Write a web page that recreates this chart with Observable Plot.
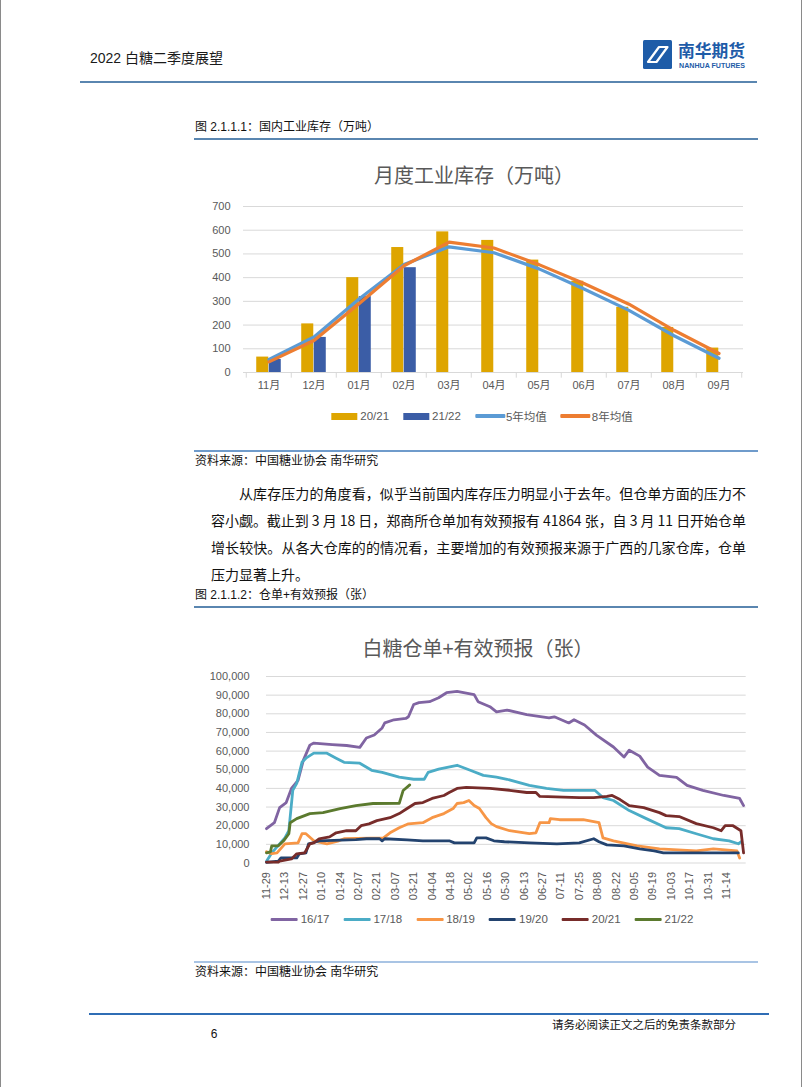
<!DOCTYPE html>
<html><head><meta charset="utf-8">
<script src="https://cdn.jsdelivr.net/npm/d3@7"></script>
<script src="https://cdn.jsdelivr.net/npm/@observablehq/plot@0.6"></script>
<style>
body{margin:0;background:#fff;}
#page{position:relative;width:802px;height:1087px;overflow:hidden;background:#fff;
 font-family:"Liberation Sans","Noto Sans CJK SC",sans-serif;color:#111;
 box-sizing:border-box;border-left:1px solid #8a8a8a;border-right:1px solid #8a8a8a;}
.para{position:absolute;left:210px;font-size:14px;line-height:27px;height:27px;
 font-family:"Noto Sans CJK SC",sans-serif;color:#111;white-space:nowrap;}
.legend{position:absolute;display:flex;align-items:center;transform:translate(-50%,-50%);
 font-size:11.5px;color:#595959;font-family:"Liberation Sans","Noto Sans CJK SC",sans-serif;white-space:nowrap;}
.legend .it{display:flex;align-items:center;margin-right:14px;}
.legend .it:last-child{margin-right:0;}
</style></head>
<body><div id="page"></div>
<script>
// ---------- Chart 1 data: 月度工业库存（万吨） ----------
const months = ["11月","12月","01月","02月","03月","04月","05月","06月","07月","08月","09月"];
const inv2021 = [65, 205, 400, 527, 593, 557, 474, 385, 275, 190, 103];
const inv2122 = [55, 148, 320, 442];
const avg5yr = [55, 150, 310, 455, 530, 505, 437, 352, 262, 155, 60];
const avg8yr = [45, 135, 290, 450, 550, 525, 455, 375, 288, 178, 80];
const yTicks1 = [0,100,200,300,400,500,600,700];

// ---------- Chart 2 data: 白糖仓单+有效预报（张） ----------
// x = days since 11-29
const dateLabels = ["11-29","12-13","12-27","01-10","01-24","02-07","02-21","03-07","03-21","04-04","04-18","05-02","05-16","05-30","06-13","06-27","07-11","07-25","08-08","08-22","09-05","09-19","10-03","10-17","10-31","11-14"];
const tickDays = [0,14,28,42,56,70,84,98,112,126,140,154,168,182,196,210,224,238,252,266,280,294,308,322,336,350];
const yTicks2 = [0,10000,20000,30000,40000,50000,60000,70000,80000,90000,100000];
const seasons = ["16/17","17/18","18/19","19/20","20/21","21/22"];
const seasonColors = ["#8064A2","#4BACC6","#F79646","#23436F","#772C2A","#5B7A2E"];

const days1617 = [0,6,10,15,19,24,28,33,36,50,61,71,76,82,88,90,97,106,108,112,116,124,131,137,145,158,161,170,175,183,198,215,219,230,234,242,251,264,272,276,284,290,299,312,320,332,348,360,363];
const vals1617 = [18400,21600,29700,32400,40000,44300,55000,63200,64300,63500,63000,62000,67000,68600,72400,75100,76800,77500,78400,85000,86000,86500,88600,91300,92000,90300,86500,83800,81000,82000,79500,77800,78400,75100,76800,74000,68600,62200,56800,60500,57300,51400,47000,45900,41600,38900,36200,34600,30800];

const days1718 = [0,4,14,17,20,23,27,30,36,46,53,59,71,80,88,101,112,120,123,131,145,155,165,175,183,200,213,226,250,256,264,276,289,304,314,327,340,352,359,361];
const vals1718 = [1000,5400,13500,17300,39000,42700,54000,56200,58900,58900,56200,54000,53500,49700,48600,46000,44900,44900,48600,50300,52400,49700,47000,46000,44900,41600,40000,38900,38900,35100,33500,28100,23800,18900,18400,15700,13000,11900,10300,11400];

const days1819 = [0,4,8,14,24,27,30,36,46,55,59,89,94,101,108,119,126,135,142,145,150,154,158,162,167,171,175,185,200,205,208,215,216,223,241,253,256,264,282,299,327,340,358,360];
const vals1819 = [6000,5000,5400,10300,10800,15700,15700,11900,10300,11900,13000,13500,16200,18900,21000,21600,24300,26500,29200,31900,32400,33500,30800,29200,24300,21100,19500,17300,15700,16200,21600,21600,23800,23200,23200,21600,13500,11900,9200,7600,6500,7600,6500,2700];

const days1920 = [0,9,11,23,25,30,32,36,40,68,76,86,88,90,107,119,139,143,158,160,167,173,181,200,221,238,249,253,259,272,284,295,302,327,359];
const vals1920 = [300,1000,2700,2700,4900,5400,10300,11000,11900,12500,13000,13000,11900,13000,12400,11900,11900,10800,10800,13500,13500,11900,11400,10800,10300,10800,13000,11400,9700,9200,7600,6500,5400,5400,5400];

const days2021 = [0,9,10,19,23,29,33,36,40,48,53,61,68,72,78,84,94,101,107,113,119,126,135,139,145,152,170,185,198,205,208,238,249,259,263,269,276,287,299,304,314,327,340,346,349,355,361,363];
const vals2021 = [500,500,1000,2200,4900,5400,10300,10800,13000,14000,16200,17300,17300,20000,21000,22700,24300,26500,29200,31900,32400,34600,36200,37800,40000,40500,40000,39000,37800,37800,35700,35100,35100,35700,36200,34000,30800,29700,27000,25400,24900,21100,18900,17300,20000,20000,17300,5400];

const days2122 = [0,3,4,9,13,17,18,23,33,43,56,68,81,101,104,109];
const vals2122 = [5400,6000,9200,9200,11900,15700,21600,23800,26500,27000,29200,30800,31900,32000,38900,41864];

// ---------- page helpers ----------
const page = document.getElementById("page");
const FONT = '"Liberation Sans","Noto Sans CJK SC",sans-serif';
function add(tag, css, html) {
  const el = document.createElement(tag);
  Object.assign(el.style, css);
  if (html !== undefined) el.innerHTML = html;
  page.appendChild(el);
  return el;
}
function txt(str, left, cy, size, opts = {}) {
  const lh = Math.round(size * 1.4);
  const el = add("div", Object.assign({position:"absolute", whiteSpace:"nowrap", left: left + "px",
    top: (cy - lh / 2) + "px", fontSize: size + "px", lineHeight: lh + "px"}, opts.css || {}), str);
  if (opts.center) el.style.transform = "translateX(-50%)";
  if (opts.right) el.style.transform = "translateX(-100%)";
  return el;
}
function hline(left, right, top, h, color) {
  return add("div", {position:"absolute", left: left + "px", top: top + "px", width: (right - left) + "px", height: h + "px", background: color});
}

// header
txt("2022 白糖二季度展望", 89, 58, 14, {css:{color:"#1a1a1a"}});
hline(79, 756, 81, 1.5, "#5A86B0");
add("div", {position:"absolute", left:"642px", top:"39px"},
 `<svg width="110" height="32" viewBox="0 0 110 32" xmlns="http://www.w3.org/2000/svg">
  <rect x="0" y="1" width="29" height="29" rx="1.5" fill="#1E5CA8"/>
  <polygon points="5,23 16,8 24.5,8 13.5,23" fill="none" stroke="#fff" stroke-width="2.2" stroke-linejoin="round"/>
  <text x="35" y="18" font-size="16.5" font-weight="700" fill="#1E5CA8" font-family="Noto Sans CJK SC" textLength="67" lengthAdjust="spacingAndGlyphs">南华期货</text>
  <text x="36" y="29" font-size="6.4" font-weight="700" fill="#1E5CA8" font-family="Liberation Sans" textLength="66" lengthAdjust="spacingAndGlyphs">NANHUA FUTURES</text>
 </svg>`);

// figure 1 caption
txt("图 2.1.1.1：国内工业库存（万吨）", 194, 127, 12, {css:{color:"#111"}});
hline(193, 757, 138, 1.5, "#5A86B0");

// chart 1 title
txt("月度工业库存（万吨）", 473, 175, 20, {center:true, css:{color:"#595959", fontFamily:'"Noto Sans CJK SC",sans-serif'}});

// chart 1
const bw1 = 500 / months.length;
const barW = 12.5;
const d2021 = inv2021.map((v, i) => ({m: months[i], v}));
const d2122 = inv2122.map((v, i) => ({m: months[i], v}));
const dAvg5 = avg5yr.map((v, i) => ({m: months[i], v}));
const dAvg8 = avg8yr.map((v, i) => ({m: months[i], v}));
const chart1 = Plot.plot({
  width: 560, height: 210, marginLeft: 49, marginRight: 11, marginTop: 11, marginBottom: 33,
  style: {fontFamily: FONT, fontSize: "11px", color: "#595959", background: "transparent", overflow: "visible"},
  x: {domain: months, type: "band", padding: 0, tickSize: 0, tickPadding: 9, label: null},
  y: {domain: [0, 700], ticks: yTicks1, tickSize: 0, tickPadding: 13, label: null},
  marks: [
    Plot.ruleY(yTicks1, {stroke: "#d9d9d9", strokeWidth: 1}),
    Plot.ruleX(months, {x: d => d, y1: 0, y2: -24, dx: -bw1 / 2, stroke: "#d9d9d9"}),
    Plot.ruleX(months.slice(-1), {x: d => d, y1: 0, y2: -24, dx: bw1 / 2, stroke: "#d9d9d9"}),
    Plot.barY(d2021, {x: "m", y: "v", fill: "#DEA500", insetLeft: bw1 / 2 - barW, insetRight: bw1 / 2}),
    Plot.barY(d2122, {x: "m", y: "v", fill: "#3B5DA6", insetLeft: bw1 / 2, insetRight: bw1 / 2 - barW}),
    Plot.line(dAvg5, {x: "m", y: "v", stroke: "#5B9BD5", strokeWidth: 3.2, strokeLinejoin: "round", strokeLinecap: "round"}),
    Plot.line(dAvg8, {x: "m", y: "v", stroke: "#ED7D31", strokeWidth: 3.2, strokeLinejoin: "round", strokeLinecap: "round"})
  ]
});
Object.assign(chart1.style, {position: "absolute", left: "193px", top: "195px"});
page.appendChild(chart1);

// legend 1
const leg1 = add("div", {left: "481px", top: "416px"});
leg1.className = "legend";
[["rect", "#DEA500", "20/21"], ["rect", "#3B5DA6", "21/22"], ["line", "#5B9BD5", "5年均值"], ["line", "#ED7D31", "8年均值"]]
.forEach(([t, c, l]) => {
  const it = document.createElement("div"); it.className = "it";
  const sw = t === "rect"
    ? `<span style="display:inline-block;width:26px;height:7px;background:${c};margin-right:3px"></span>`
    : `<span style="display:inline-block;width:30px;height:3.2px;background:${c};margin-right:1px;border-radius:1px"></span>`;
  it.innerHTML = sw + `<span>${l}</span>`;
  leg1.appendChild(it);
});

// source 1
hline(193, 757, 450, 1.5, "#6F9BCB");
txt("资料来源：中国糖业协会 南华研究", 194, 461, 12, {css:{color:"#111"}});

// paragraph (each line justified to the text block width by letter spacing)
const lines = [
  "从库存压力的角度看，似乎当前国内库存压力明显小于去年。但仓单方面的压力不",
  "容小觑。截止到 3 月 18 日，郑商所仓单加有效预报有 41864 张，自 3 月 11 日开始仓单",
  "增长较快。从各大仓库的的情况看，主要增加的有效预报来源于广西的几家仓库，仓单",
  "压力显著上升。"
];
const lineY = [493, 520, 547, 574];
lines.forEach((s, i) => {
  const d = document.createElement("div");
  d.className = "para";
  d.style.top = (lineY[i] - 13.5) + "px";
  const left = i === 0 ? 238 : 210;
  d.style.left = left + "px";
  d.textContent = s;
  page.appendChild(d);
  if (i < 3) {
    const target = 745 - left;
    const w = d.getBoundingClientRect().width;
    const n = [...s].length;
    d.style.letterSpacing = ((target - w) / (n - 1)) + "px";
  }
});

// figure 2 caption
txt("图 2.1.1.2：仓单+有效预报（张）", 194, 595, 12, {css:{color:"#111"}});
hline(193, 757, 606, 1.5, "#5A86B0");

// chart 2 title
txt("白糖仓单+有效预报（张）", 477, 648, 20, {center:true, css:{color:"#595959", fontFamily:'"Noto Sans CJK SC",sans-serif'}});

// chart 2
const seriesDays = [days1617, days1718, days1819, days1920, days2021, days2122];
const seriesVals = [vals1617, vals1718, vals1819, vals1920, vals2021, vals2122];
const lineMarks = seasons.map((s, k) =>
  Plot.line(seriesDays[k].map((d, i) => ({d, v: seriesVals[k][i]})),
    {x: "d", y: "v", stroke: seasonColors[k], strokeWidth: 2.8, strokeLinejoin: "round", strokeLinecap: "round"}));
const chart2 = Plot.plot({
  width: 560, height: 243, marginLeft: 72, marginRight: 8.3, marginTop: 11, marginBottom: 45.5,
  style: {fontFamily: FONT, fontSize: "11px", color: "#595959", background: "transparent", overflow: "visible"},
  x: {domain: [0, 365], ticks: tickDays, tickFormat: d => dateLabels[tickDays.indexOf(d)], tickRotate: -90, tickSize: 0, tickPadding: 9, label: null},
  y: {domain: [0, 100000], ticks: yTicks2, tickFormat: d3.format(","), tickSize: 0, tickPadding: 17, label: null},
  marks: [
    Plot.ruleY(yTicks2, {stroke: "#d9d9d9", strokeWidth: 1}),
    ...lineMarks
  ]
});
Object.assign(chart2.style, {position: "absolute", left: "193px", top: "665px"});
page.appendChild(chart2);

// legend 2
const leg2 = add("div", {left: "481px", top: "919px"});
leg2.className = "legend";
seasons.forEach((s, k) => {
  const it = document.createElement("div"); it.className = "it";
  it.innerHTML = `<span style="display:inline-block;width:27px;height:3px;background:${seasonColors[k]};margin-right:3px;border-radius:1px"></span><span>${s}</span>`;
  leg2.appendChild(it);
});

// source 2
hline(193, 757, 961, 1.5, "#A9C4E4");
txt("资料来源：中国糖业协会 南华研究", 194, 972, 12, {css:{color:"#111"}});

// footer
hline(88, 768, 1013, 2, "#2F6DB5");
txt("6", 213, 1034, 12, {center:true, css:{color:"#111"}});
txt("请务必阅读正文之后的免责条款部分", 735, 1025, 11.5, {right:true, css:{color:"#111"}});
</script>
</body></html>
